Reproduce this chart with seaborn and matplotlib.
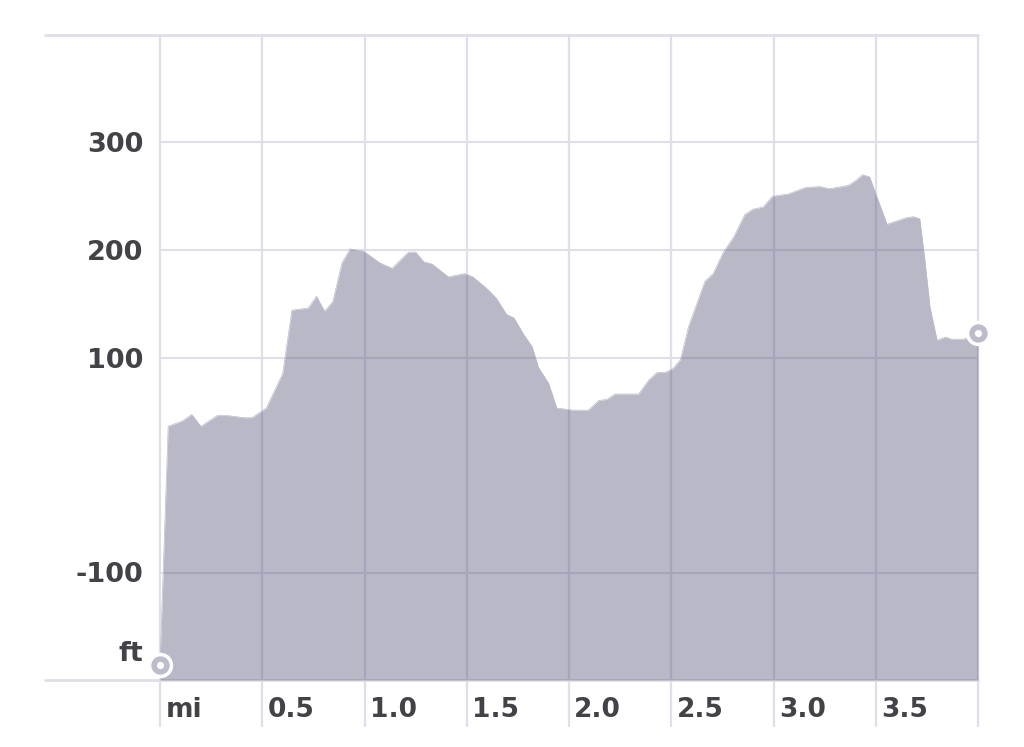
import numpy as np
import pandas as pd
import matplotlib
matplotlib.use('Agg')
import matplotlib.pyplot as plt
import matplotlib.transforms as mtransforms
import seaborn as sns

# perfil de elevación (distancia en millas, elevación en pies)
distance_mi = [0.0, 0.04, 0.11, 0.155, 0.2, 0.28, 0.33, 0.41, 0.45, 0.52, 0.6, 0.645,
               0.725, 0.765, 0.805, 0.845, 0.89, 0.93, 0.995, 1.075, 1.135, 1.215, 1.25,
               1.29, 1.33, 1.37, 1.41, 1.49, 1.53, 1.605, 1.645, 1.695, 1.73, 1.78, 1.82,
               1.85, 1.9, 1.94, 2.02, 2.095, 2.145, 2.185, 2.225, 2.34, 2.39, 2.43, 2.47,
               2.51, 2.545, 2.585, 2.625, 2.665, 2.705, 2.755, 2.805, 2.86, 2.9, 2.95,
               2.995, 3.07, 3.155, 3.225, 3.275, 3.365, 3.405, 3.435, 3.47, 3.555, 3.65,
               3.685, 3.715, 3.74, 3.765, 3.8, 3.84, 3.87, 3.93, 4.0]
elevation_ft = [-186, 36, 41, 47, 36, 46, 46, 44, 44, 53, 85, 144,
                146, 157, 143, 152, 188, 201, 199, 188, 183, 198, 198,
                189, 187, 181, 175, 178, 175, 163, 155, 140, 137, 121, 110,
                91, 76, 53, 51, 51, 60, 61, 66, 66, 79, 86, 86,
                90, 98, 129, 150, 171, 178, 198, 212, 233, 238, 240,
                250, 252, 258, 259, 257, 260, 265, 270, 268, 224, 230,
                231, 229, 191, 147, 116, 119, 117, 117, 123]

x_ticks = [0.0, 0.5, 1.0, 1.5, 2.0, 2.5, 3.0, 3.5, 4.0]
x_labels = ['mi', '0.5', '1.0', '1.5', '2.0', '2.5', '3.0', '3.5', '']
y_grid = [300, 200, 100, -100]
y_labels = ['300', '200', '100', '-100']
y_min, y_max = -200, 400

df = pd.DataFrame({'dist': distance_mi, 'elev': elevation_ft})

sns.set_style('white')
plt.rcParams['font.family'] = ['DejaVu Sans']

grid_color = '#e0dfe9'
fill_color = '#56567a'
text_color = '#424247'
marker_color = '#bdbccb'

fig = plt.figure(figsize=(10.24, 7.47), dpi=100)
ax = fig.add_axes([160 / 1024, 1 - 680 / 747, 818 / 1024, 645 / 747])
ax.set_xlim(0, 4)
ax.set_ylim(y_min, y_max)
for s in ax.spines.values():
    s.set_visible(False)

# cuadrícula
for y in y_grid:
    ax.axhline(y, color=grid_color, lw=1.5, zorder=0)
for y in (y_min, y_max):
    ax.axhline(y, xmin=-0.1406, xmax=1, color=grid_color, lw=2, zorder=0, clip_on=False)
for x in x_ticks:
    ax.axvline(x, ymin=-0.0713, ymax=1, color=grid_color, lw=1.6, zorder=0, clip_on=False)

# área de elevación
ax.fill_between(df['dist'], df['elev'], y_min, color=fill_color, alpha=0.42, lw=0, zorder=2)
sns.lineplot(data=df, x='dist', y='elev', ax=ax, color='#bbbbc9', lw=0.5, zorder=2)

# marcadores inicio / fin
ends = df.iloc[[0, -1]]
ax.scatter(ends['dist'], ends['elev'], s=300, color='white', zorder=4, clip_on=False)
ax.scatter(ends['dist'], ends['elev'], s=85, facecolor='white', edgecolor=marker_color,
           lw=4, zorder=5, clip_on=False)

# etiquetas
ax.set_xticks([])
ax.set_yticks(y_grid)
ax.set_yticklabels(y_labels)
ax.tick_params(axis='y', length=0, pad=12, labelsize=19.5, labelcolor=text_color)
for lab in ax.get_yticklabels():
    lab.set_fontweight('bold')
ax.set_xlabel('')
ax.set_ylabel('')

trans = mtransforms.blended_transform_factory(ax.transData, ax.transAxes)
for x, lab in zip(x_ticks, x_labels):
    ax.text(x + 0.026, -0.046, lab, transform=trans, ha='left', va='center',
            fontsize=19, fontweight='bold', color=text_color)
ax.text(-0.0205, 0.04, 'ft', transform=ax.transAxes, ha='right',
        va='center', fontsize=19.5, fontweight='bold', color=text_color)

fig.savefig('out.png', dpi=100)
